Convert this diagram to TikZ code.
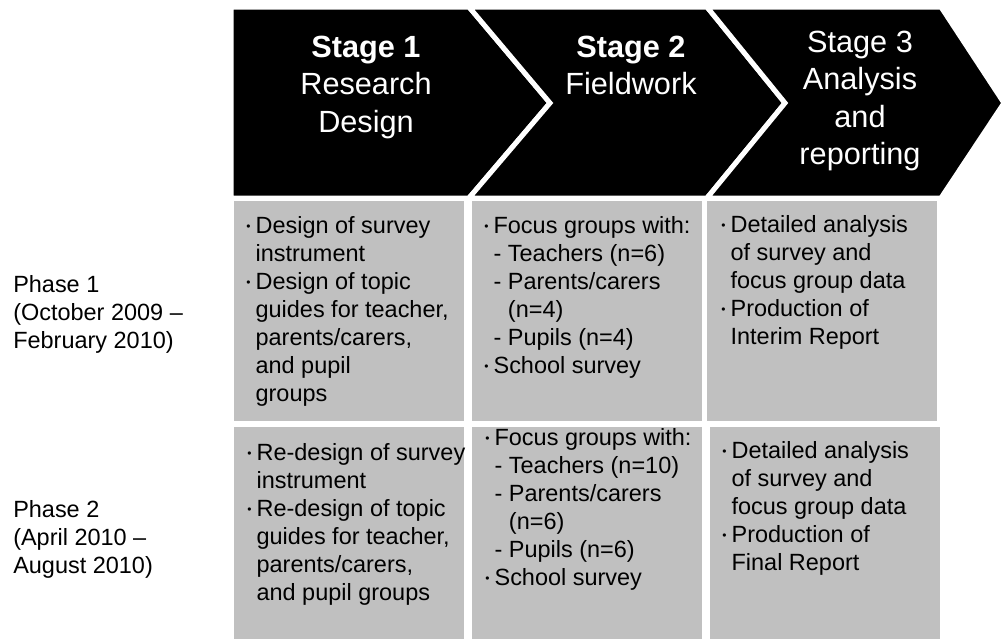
\documentclass[tikz,border=0pt]{standalone}
\usepackage{fontspec}
\setmainfont{Liberation Sans}
\definecolor{cellgray}{HTML}{C0C0C0}
\newcommand{\bul}{\makebox[7pt][l]{\raisebox{2.2pt}{\fontsize{9}{9}\selectfont\textbullet}}}
\newcommand{\ind}{\hphantom{\bul}}

\tikzstyle{cell}=[rectangle,fill=cellgray,inner sep=0,minimum width=172.5pt]
\tikzstyle{body}=[anchor=north west,inner sep=0,align=left,font=\fontsize{17.6}{21}\selectfont]
\tikzstyle{head}=[anchor=north,inner sep=0,align=center,text=white,font=\fontsize{23}{28}\selectfont]
\tikzstyle{chev}=[fill=black,draw=white,line width=3.75pt,line join=miter]

\begin{document}
\begin{tikzpicture}[x=0.75pt,y=-0.75pt]
\useasboundingbox (0,0) rectangle (1002,639);

% stage arrows
\path[chev] (231,7) -- (469,7) -- (550,103) -- (469,198) -- (231,198) -- cycle;
\path[chev] (469,7) -- (707,7) -- (785,103) -- (707,198) -- (469,198) -- (550,103) -- cycle;
\path[chev] (707,7) -- (941,7) -- (1004,103) -- (941,198) -- (707,198) -- (785,103) -- cycle;
\node[head] (s1) at (366,31) {\strut\textbf{Stage 1}\\Research\\Design};
\node[head] (s2) at (631,31) {\strut\textbf{Stage 2}\\Fieldwork};
\node[head] (s3) at (860,26) {\strut Stage 3\\Analysis\\and\\reporting};

% phase 1
\node[cell,minimum height=165pt] (c11) at (349,311) {};
\node[cell,minimum height=165pt] (c12) at (586.5,311) {};
\node[cell,minimum height=165pt] (c13) at (822,311) {};
\node[body] (p1) at (13,272.4) {\strut Phase 1\\(October 2009 \textendash\\February 2010)};
\node[body] (t11) at (246,213.4) {\strut\bul Design of survey\\
  \ind instrument\\
  \bul Design of topic\\
  \ind guides for teacher,\\
  \ind parents/carers,\\
  \ind and pupil\\
  \ind groups};
\node[body] (t12) at (484,213.4) {\strut\bul Focus groups with:\\
  \ind - Teachers (n=6)\\
  \ind - Parents/carers\\
  \ind\hphantom{- }(n=4)\\
  \ind - Pupils (n=4)\\
  \bul School survey};
\node[body] (t13) at (721,212.4) {\strut\bul Detailed analysis\\
  \ind of survey and\\
  \ind focus group data\\
  \bul Production of\\
  \ind Interim Report};

% phase 2
\node[cell,minimum height=159pt] (c21) at (349,533) {};
\node[cell,minimum height=159pt] (c22) at (587,533) {};
\node[cell,minimum height=159pt] (c23) at (824.5,533) {};
\node[body] (p2) at (13,497.4) {\strut Phase 2\\(April 2010 \textendash\\August 2010)};
\node[body] (t21) at (247,440.4) {\strut\bul Re-design of survey\\
  \ind instrument\\
  \bul Re-design of topic\\
  \ind guides for teacher,\\
  \ind parents/carers,\\
  \ind and pupil groups};
\node[body] (t22) at (485,425.4) {\strut\bul Focus groups with:\\
  \ind - Teachers (n=10)\\
  \ind - Parents/carers\\
  \ind\hphantom{- }(n=6)\\
  \ind - Pupils (n=6)\\
  \bul School survey};
\node[body] (t23) at (722,438.4) {\strut\bul Detailed analysis\\
  \ind of survey and\\
  \ind focus group data\\
  \bul Production of\\
  \ind Final Report};
\end{tikzpicture}
\end{document}
